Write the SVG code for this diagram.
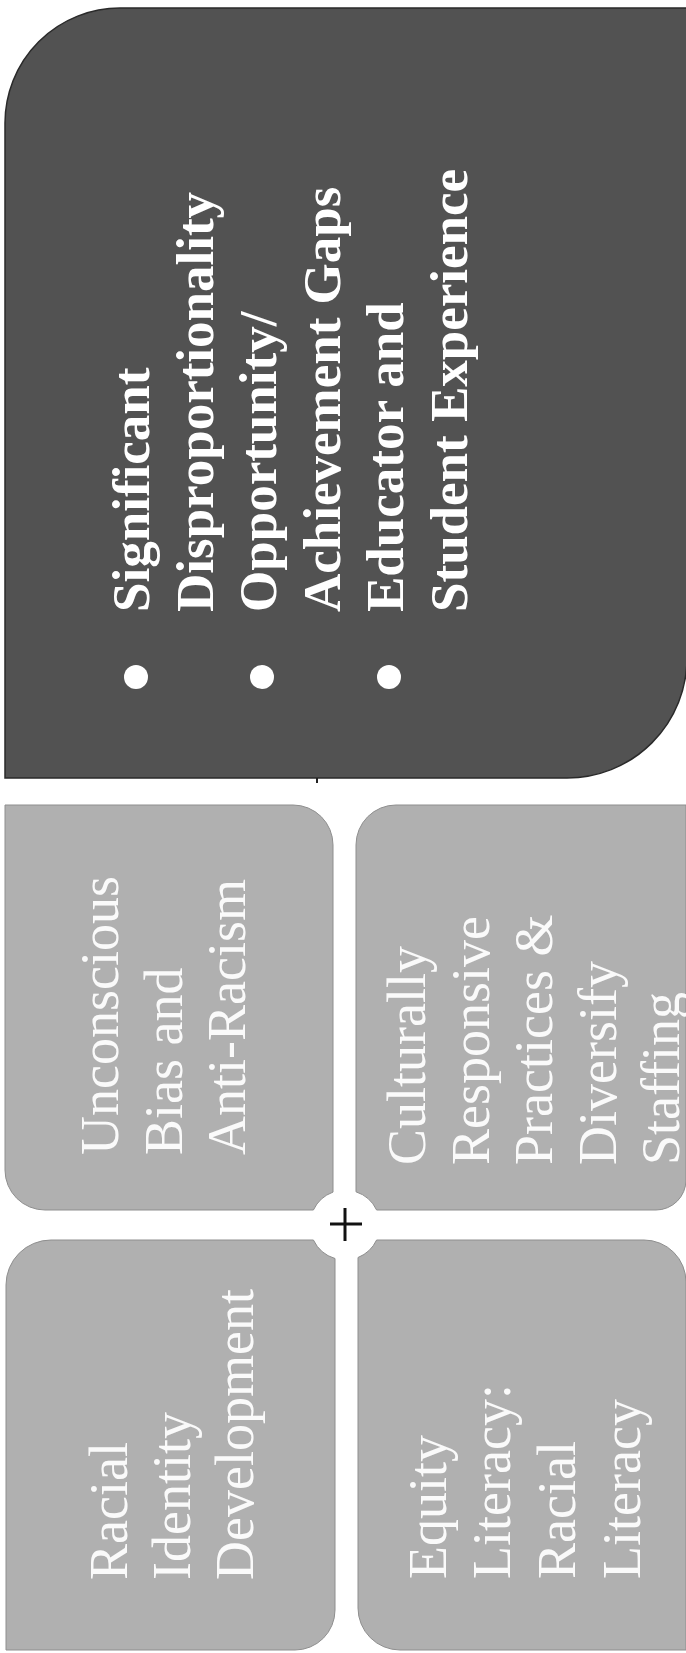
<svg xmlns="http://www.w3.org/2000/svg" width="686" height="1653" viewBox="0 0 686 1653">
  <style>
    .dark { fill: #525252; stroke: #2a2a2a; stroke-width: 1.5; }
    .light { fill: #b0b0b0; stroke: #8e8e8e; stroke-width: 1; }
    .dt { font-family: "Liberation Serif", "Times New Roman", serif; font-size: 53px; font-weight: bold; fill: #ffffff; }
    .lt { font-family: "Liberation Serif", "Times New Roman", serif; font-size: 54px; fill: #fafafa; }
    .bullet { fill: #ffffff; }
    .plus { stroke: #111111; stroke-width: 3; fill: none; }
  </style>
  <rect x="0" y="0" width="686" height="1653" fill="#ffffff"/>

  <g id="node-outcomes">
    <path class="dark" d="M5,123 A115,115 0 0 1 120,8 H687 V658 A120,120 0 0 1 567,778 H5 Z"/>
    <line x1="317" y1="778" x2="317" y2="783" stroke="#222222" stroke-width="2"/>
    <circle class="bullet" cx="136" cy="677" r="12"/>
    <circle class="bullet" cx="262" cy="677" r="12"/>
    <circle class="bullet" cx="389" cy="677" r="12"/>
    <text class="dt" transform="translate(149,612) rotate(-90)">Significant</text>
    <text class="dt" transform="translate(212.5,612) rotate(-90)">Disproportionality</text>
    <text class="dt" transform="translate(276,612) rotate(-90)">Opportunity/</text>
    <text class="dt" transform="translate(339.5,612) rotate(-90)">Achievement Gaps</text>
    <text class="dt" transform="translate(403,612) rotate(-90)">Educator and</text>
    <text class="dt" transform="translate(466.5,612) rotate(-90)">Student Experience</text>
  </g>

  <g id="node-unconscious-bias">
    <path class="light" d="M5,805 H293 A40,40 0 0 1 333,845 V1192.1 A35,35 0 0 0 313.4,1210 H45 A40,40 0 0 1 5,1170 Z"/>
    <text class="lt" transform="translate(118,1155) rotate(-90)">Unconscious</text>
    <text class="lt" transform="translate(181.5,1155) rotate(-90)">Bias and</text>
    <text class="lt" transform="translate(245,1155) rotate(-90)">Anti-Racism</text>
  </g>

  <g id="node-culturally-responsive">
    <path class="light" d="M396,805 H686 V1180 A30,30 0 0 1 656,1210 H376.6 A35,35 0 0 0 356,1191.8 V845 A40,40 0 0 1 396,805 Z"/>
    <text class="lt" transform="translate(425,1165) rotate(-90)">Culturally</text>
    <text class="lt" transform="translate(488.5,1165) rotate(-90)">Responsive</text>
    <text class="lt" transform="translate(552,1165) rotate(-90)">Practices &amp;</text>
    <text class="lt" transform="translate(615.5,1165) rotate(-90)">Diversify</text>
    <text class="lt" transform="translate(679,1165) rotate(-90)">Staffing</text>
  </g>

  <g id="node-racial-identity">
    <path class="light" d="M6,1285 A45,45 0 0 1 51,1240 H313.4 A35,35 0 0 0 335,1258.5 V1610 A40,40 0 0 1 295,1650 H6 Z"/>
    <text class="lt" transform="translate(127,1580) rotate(-90)">Racial</text>
    <text class="lt" transform="translate(190,1580) rotate(-90)">Identity</text>
    <text class="lt" transform="translate(253,1580) rotate(-90)">Development</text>
  </g>

  <g id="node-equity-literacy">
    <path class="light" d="M376.6,1240 H644 A42,42 0 0 1 686,1282 V1650 H400 A42,42 0 0 1 358,1608 V1257.5 A35,35 0 0 0 376.6,1240 Z"/>
    <text class="lt" transform="translate(446,1579) rotate(-90)">Equity</text>
    <text class="lt" transform="translate(510,1579) rotate(-90)">Literacy:</text>
    <text class="lt" transform="translate(575,1579) rotate(-90)">Racial</text>
    <text class="lt" transform="translate(640,1579) rotate(-90)">Literacy</text>
  </g>

  <g id="connectors">
    <line class="plus" x1="345" y1="1208" x2="345" y2="1241"/>
    <line class="plus" x1="330" y1="1224" x2="362" y2="1224" stroke-width="2.5"/>
  </g>
</svg>
